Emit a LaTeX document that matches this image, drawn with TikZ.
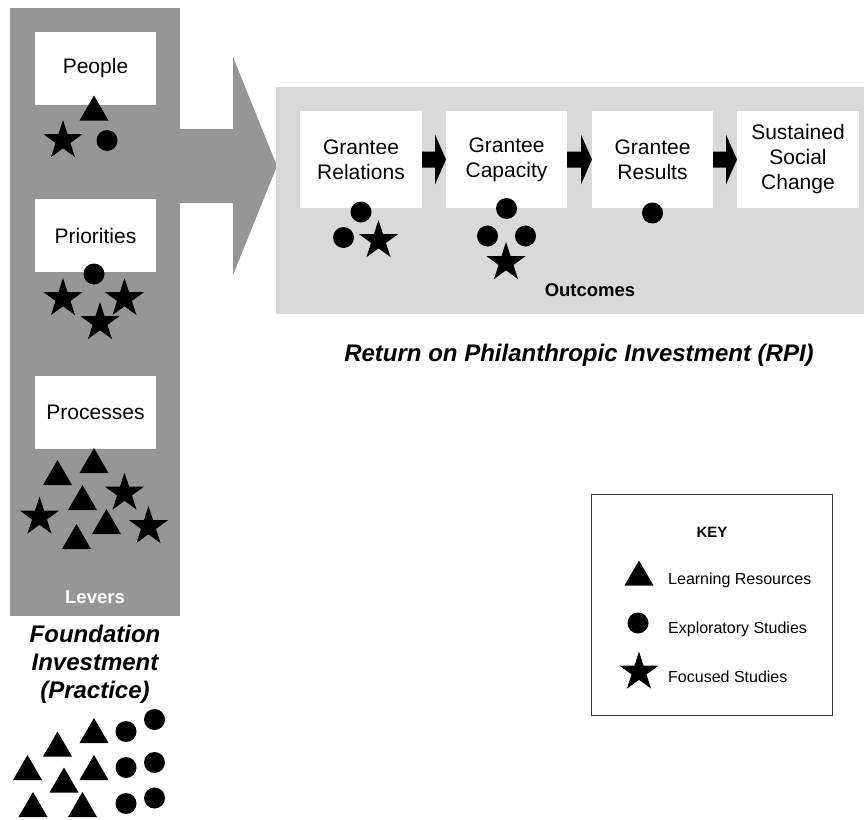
\documentclass[tikz,border=0pt]{standalone}
\usepackage{fontspec}
\setmainfont{Liberation Sans}
\usetikzlibrary{calc}
\definecolor{levergray}{RGB}{150,150,150}
\definecolor{panelgray}{RGB}{217,217,217}
% black block arrow from the east side of one stage box to the west side of the next
\newcommand\stagelink[2]{%
  \fill ($(#1.east)+(0,-8)$) -- ($(#2.west)+(-11,-8)$) -- ($(#2.west)+(-11,-25)$)
    -- (#2.west) -- ($(#2.west)+(-11,25)$) -- ($(#2.west)+(-11,8)$)
    -- ($(#1.east)+(0,8)$) -- cycle;}
\begin{document}
\begin{tikzpicture}[x=1pt,y=-1pt,
  tri/.pic={\fill (-14.5,12.5) -- (14.5,12.5) -- (0,-12.5) -- cycle;},
  dot/.pic={\fill (0,0) circle[radius=10.5pt];},
  starmark/.pic={\fill (-90:20.5) -- (-54:7.83) -- (-18:20.5) -- (18:7.83) -- (54:20.5)
     -- (90:7.83) -- (126:20.5) -- (162:7.83) -- (198:20.5) -- (234:7.83) -- cycle;},
  block/.style={inner sep=0pt, outer sep=0pt},
  leverbox/.style={block, fill=white, minimum width=121pt, minimum height=73pt,
     font=\fontsize{21}{25}\selectfont, align=center},
  stagebox/.style={block, fill=white, minimum height=97pt,
     font=\fontsize{21}{25}\selectfont, align=center},
  caption/.style={inner sep=0pt, font=\fontsize{18.5}{22}\selectfont\bfseries},
  title/.style={inner sep=0pt, font=\fontsize{24}{28}\selectfont\bfseries\itshape, align=center},
  keytext/.style={inner sep=0pt, anchor=base west, font=\fontsize{16}{19}\selectfont},
]
\useasboundingbox (0,0) rectangle (864,819);

% Levers column
\node[block, fill=levergray, minimum width=170pt, minimum height=608pt] (levers) at (95,312) {};
\node[leverbox] (people) at (95.5,68.5) {People};
\node[leverbox] (priorities) at (95.5,235.5) {Priorities};
\node[leverbox] (processes) at (95.5,412.5) {Processes};
\node[caption, text=white, anchor=base] (leverslabel) at (95,603.5) {Levers};

% broad arrow from the levers into the outcomes
\coordinate (tip) at (277,166);
\fill[levergray] (180,129) -- (233,129) -- (233,57) -- (tip) -- (233,275) -- (233,203) -- (180,203) -- cycle;

% Outcomes panel
\node[block, fill=panelgray, minimum width=588pt, minimum height=227pt] (outcomes) at (570,200.5) {};
\node[stagebox, minimum width=122pt] (relations) at (361,159.5) {Grantee\\Relations};
\node[stagebox, minimum width=121pt] (capacity) at (506.5,159.5) {Grantee\\Capacity};
\node[stagebox, minimum width=121pt] (results) at (652.5,159.5) {Grantee\\Results};
\node[stagebox, minimum width=122pt] (change) at (798,159.5) {Sustained\\Social\\Change};
\stagelink{relations}{capacity}
\stagelink{capacity}{results}
\stagelink{results}{change}
\node[caption, anchor=base] (outcomeslabel) at (590,296.5) {Outcomes};

\node[title, anchor=base] (rpi) at (579,361.6) {Return on Philanthropic Investment (RPI)};
\node[title] (practice) at (95,664.5) {Foundation\\Investment\\(Practice)};

% symbols: People
\pic at (94,108) {tri};
\pic at (63,140.5) {starmark};
\pic at (107,140.5) {dot};
% symbols: Priorities
\pic at (94,274) {dot};
\pic at (63,298.5) {starmark};
\pic at (124.5,298.5) {starmark};
\pic at (100,322.5) {starmark};
% symbols: Processes
\pic at (57.5,472.5) {tri};
\pic at (94,460.5) {tri};
\pic at (82.5,497.5) {tri};
\pic at (106.5,521.5) {tri};
\pic at (76.5,536.5) {tri};
\pic at (124.5,493) {starmark};
\pic at (39.5,517) {starmark};
\pic at (148.5,526.5) {starmark};
% symbols: Foundation investment
\pic at (94,730.5) {tri};
\pic at (57.5,744) {tri};
\pic at (27.5,767.5) {tri};
\pic at (94,767.5) {tri};
\pic at (64,780) {tri};
\pic at (33,804.5) {tri};
\pic at (82.5,804.5) {tri};
\pic at (126,731.5) {dot};
\pic at (154.5,719.5) {dot};
\pic at (126,767.5) {dot};
\pic at (154.5,762.5) {dot};
\pic at (126,803.5) {dot};
\pic at (154.5,798) {dot};
% symbols: outcome stages
\pic at (361,212) {dot};
\pic at (343.5,237.5) {dot};
\pic at (378.5,240.5) {starmark};
\pic at (506.5,208.5) {dot};
\pic at (487.5,236) {dot};
\pic at (525.5,236) {dot};
\pic at (506,262.5) {starmark};
\pic at (652.5,213) {dot};

% Key
\node[block, draw=black!80, line width=1pt, minimum width=241pt, minimum height=221pt] (key) at (711.5,604.5) {};
\node[inner sep=0pt, anchor=base, font=\fontsize{15}{18}\selectfont\bfseries] (keytitle) at (712,537) {KEY};
\pic at (639,573) {tri};
\pic at (638,623) {dot};
\pic at (639,672) {starmark};
\node[keytext] (klearn) at (668,584) {Learning Resources};
\node[keytext] (kexpl) at (668,633) {Exploratory Studies};
\node[keytext] (kfocus) at (668,682) {Focused Studies};
\end{tikzpicture}
\end{document}
